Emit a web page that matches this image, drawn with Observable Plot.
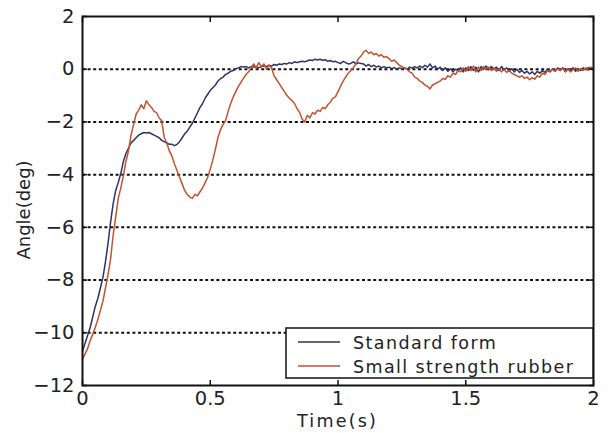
<!DOCTYPE html>
<html>
<head>
<meta charset="utf-8">
<script src="https://cdn.jsdelivr.net/npm/d3@7"></script>
<script src="https://cdn.jsdelivr.net/npm/@observablehq/plot@0.6"></script>
<style>
  html, body { margin: 0; padding: 0; background: #fff; }
  #chart { width: 608px; height: 433px; }
  svg { font-family: "DejaVu Sans", sans-serif; }
</style>
</head>
<body>
<div id="chart"></div>
<script>
// Sampling step of the recorded signals (s)
const timeStep = 0.01;
const seriesNames = ["Standard form", "Small strength rubber"];
const seriesColors = ["#2b3566", "#c5512f"];
const xTicks = [0, 0.5, 1, 1.5, 2];
const yTicks = [-12, -10, -8, -6, -4, -2, 0, 2];
const gridLevels = [-10, -8, -6, -4, -2, 0];
const xLabel = "Time(s)";
const yLabel = "Angle(deg)";

// Standard form angle (deg), t = 0.00 .. 2.00
const standardForm = [
 -10.7,-10.4,-10.1,-9.8,-9.4,-9.0,-8.7,-8.3,-7.9,-7.3,
 -6.6,-5.8,-5.1,-4.6,-4.3,-3.95,-3.5,-3.2,-3.0,-2.8,
 -2.7,-2.6,-2.5,-2.45,-2.4,-2.42,-2.4,-2.45,-2.5,-2.55,
 -2.6,-2.7,-2.75,-2.8,-2.85,-2.85,-2.9,-2.85,-2.75,-2.6,
 -2.45,-2.35,-2.2,-2.05,-1.85,-1.65,-1.45,-1.3,-1.1,-0.95,
 -0.8,-0.7,-0.6,-0.45,-0.36,-0.3,-0.2,-0.15,-0.08,-0.05,
 0.02,0.05,0.1,0.08,0.1,0.05,0.1,0.08,0.1,0.05,
 0.1,0.12,0.1,0.15,0.12,0.18,0.15,0.2,0.18,0.22,
 0.2,0.25,0.22,0.28,0.25,0.28,0.3,0.28,0.32,0.35,
 0.33,0.38,0.35,0.38,0.34,0.36,0.3,0.33,0.28,0.3,
 0.25,0.22,0.3,0.25,0.2,0.22,0.28,0.2,0.24,0.22,
 0.2,0.12,0.18,0.1,0.15,0.08,0.12,0.05,0.1,0.05,
 0.08,0.02,0.06,0.0,0.05,0.02,0.06,0.0,0.08,0.04,
 0.1,0.05,0.12,0.06,0.15,0.08,0.2,0.05,0.12,0.0,
 0.08,-0.05,0.05,-0.08,0.02,-0.1,0.0,-0.05,0.05,-0.1,
 0.05,-0.05,0.1,-0.05,0.08,-0.1,0.1,0.0,0.12,-0.02,
 0.1,0.0,0.08,-0.05,0.1,-0.02,0.05,-0.08,0.02,-0.1,
 0.0,-0.12,-0.05,-0.15,-0.08,-0.18,-0.1,-0.2,-0.08,-0.15,
 -0.05,-0.12,0.0,-0.1,0.02,-0.08,0.05,-0.05,0.05,-0.1,
 0.02,-0.05,0.05,-0.08,0.02,-0.05,0.05,-0.02,0.06,0.0,
 0.05
];

// Small strength rubber angle (deg), t = 0.00 .. 2.00
const smallRubber = [
 -11.0,-10.8,-10.6,-10.3,-10.05,-9.8,-9.5,-9.15,-8.8,-8.3,
 -7.8,-7.2,-6.3,-5.6,-4.9,-4.5,-4.05,-3.5,-3.1,-2.5,
 -2.1,-1.7,-1.55,-1.35,-1.5,-1.2,-1.35,-1.45,-1.6,-1.65,
 -1.85,-1.95,-2.6,-2.8,-3.1,-3.3,-3.6,-3.85,-4.1,-4.35,
 -4.6,-4.75,-4.85,-4.9,-4.75,-4.8,-4.65,-4.5,-4.3,-4.1,
 -3.8,-3.45,-3.05,-2.6,-2.3,-2.1,-1.95,-1.6,-1.3,-1.05,
 -0.85,-0.65,-0.5,-0.35,-0.2,-0.1,0.05,0.2,0.05,0.25,
 0.1,0.2,0.0,0.15,0.05,-0.25,-0.4,-0.55,-0.7,-0.85,
 -1.0,-1.1,-1.2,-1.3,-1.5,-1.65,-1.9,-2.0,-1.75,-1.85,
 -1.65,-1.7,-1.55,-1.6,-1.45,-1.5,-1.35,-1.25,-1.1,-1.05,
 -0.85,-0.65,-0.45,-0.3,-0.15,-0.05,0.05,0.2,0.4,0.5,
 0.65,0.72,0.6,0.65,0.55,0.6,0.5,0.55,0.45,0.48,
 0.4,0.3,0.35,0.25,0.15,0.1,0.05,0.0,-0.1,-0.15,
 -0.3,-0.35,-0.45,-0.5,-0.6,-0.65,-0.75,-0.6,-0.55,-0.5,
 -0.45,-0.35,-0.38,-0.25,-0.3,-0.15,-0.2,-0.05,-0.1,0.05,
 -0.08,0.1,-0.05,0.12,-0.1,0.08,-0.05,0.1,0.0,0.08,
 -0.05,0.05,-0.08,0.02,-0.1,0.0,-0.12,-0.05,-0.15,-0.2,
 -0.25,-0.3,-0.25,-0.35,-0.3,-0.4,-0.32,-0.38,-0.25,-0.3,
 -0.15,-0.2,-0.05,-0.1,0.0,-0.08,0.02,-0.05,0.05,-0.08,
 0.0,-0.1,-0.02,0.05,-0.08,0.02,-0.05,0.05,-0.05,0.08,
 0.0
];

const rows = [];
[standardForm, smallRubber].forEach((vals, si) => {
  vals.forEach((v, i) => rows.push({t: +(i * timeStep).toFixed(2), angle: v, series: seriesNames[si]}));
});

const W = 608, H = 433, mL = 82, mR = 15, mT = 16, mB = 48;
const fmt = d => (d < 0 ? "\u2212" + String(-d) : String(d));

const plot = Plot.plot({
  width: W, height: H,
  marginLeft: mL, marginRight: mR, marginTop: mT, marginBottom: mB,
  style: {fontFamily: '"DejaVu Sans", sans-serif', fontSize: "19px", color: "#222", background: "#fff", overflow: "visible"},
  x: {domain: [0, 2]},
  y: {domain: [-12, 2]},
  color: {domain: seriesNames, range: seriesColors},
  marks: [
    Plot.ruleY(gridLevels, {stroke: "#111", strokeWidth: 2, strokeDasharray: "3,2.6"}),
    Plot.line(rows, {x: "t", y: "angle", z: "series", stroke: "series", strokeWidth: 1.5}),
    Plot.axisX({anchor: "bottom", ticks: xTicks, tickSize: -5, tickPadding: 11, tickFormat: fmt,
      label: null, stroke: "#111", strokeWidth: 1.5, fontSize: 19.5}),
    Plot.axisX({anchor: "top", ticks: xTicks, tickSize: -5, tickFormat: () => "", label: null, stroke: "#111", strokeWidth: 1.5}),
    Plot.axisY({anchor: "left", ticks: yTicks, tickSize: -5, tickPadding: 13, tickFormat: fmt,
      label: null, stroke: "#111", strokeWidth: 1.5, fontSize: 19.5}),
    Plot.axisY({anchor: "right", ticks: yTicks, tickSize: -5, tickFormat: () => "", label: null, stroke: "#111", strokeWidth: 1.5}),
    Plot.frame({stroke: "#111", strokeWidth: 2})
  ]
});

const svg = d3.select(plot);

// Axis titles
svg.append("text").attr("x", (mL + W - mR) / 2).attr("y", 427).attr("text-anchor", "middle")
  .attr("font-size", 17.5).attr("letter-spacing", 2.2).attr("fill", "#222").text(xLabel);
svg.append("text").attr("transform", "translate(30,210) rotate(-90)").attr("text-anchor", "middle")
  .attr("font-size", 18).attr("fill", "#222").text(yLabel);

// Legend box (lower right, inside the frame)
const lg = svg.append("g").attr("text-anchor", "start");
const lx = 286, ly = 328, lw = W - mR - 286, lh = 50;
lg.append("rect").attr("x", lx).attr("y", ly).attr("width", lw).attr("height", lh)
  .attr("fill", "#fff").attr("stroke", "#111").attr("stroke-width", 1.5);
seriesNames.forEach((name, i) => {
  const yy = ly + 14 + i * 24;
  lg.append("line").attr("x1", lx + 12).attr("x2", lx + 54).attr("y1", yy).attr("y2", yy)
    .attr("stroke", seriesColors[i]).attr("stroke-width", 1.5);
  lg.append("text").attr("x", lx + 67).attr("y", yy + 7).attr("text-anchor", "start").text(name)
    .attr("font-size", 17.5).attr("letter-spacing", 1.4).attr("fill", "#222");
});

document.getElementById("chart").appendChild(plot);
</script>
</body>
</html>
